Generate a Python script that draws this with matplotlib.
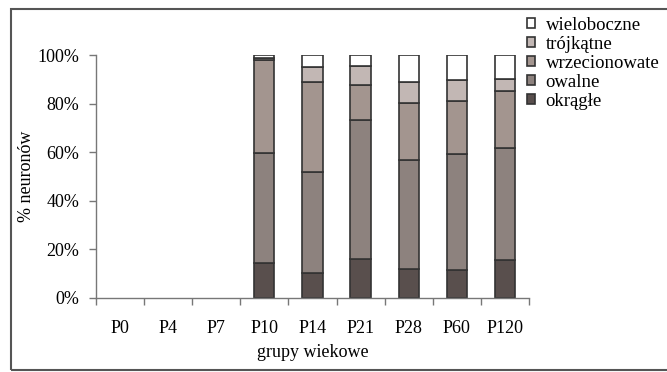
import matplotlib
matplotlib.use("Agg")
import matplotlib.pyplot as plt
from matplotlib.patches import Rectangle
from matplotlib.ticker import FixedLocator, FuncFormatter
import numpy as np

plt.rcParams['font.family'] = ['Liberation Serif', 'DejaVu Serif']

groups = ["P0", "P4", "P7", "P10", "P14", "P21", "P28", "P60", "P120"]
okragle = [0, 0, 0, 14.5, 10.2, 16.2, 11.9, 11.4, 15.6]
owalne = [0, 0, 0, 45.3, 41.7, 57.1, 44.9, 47.7, 46.1]
wrzecionowate = [0, 0, 0, 38.1, 37.0, 14.2, 23.4, 21.8, 23.6]
trojkatne = [0, 0, 0, 0.9, 6.2, 8.1, 8.8, 8.7, 4.8]
wieloboczne = [0, 0, 0, 1.2, 4.9, 4.4, 11.0, 10.4, 9.9]

series = [
    ("okrągłe", okragle, "#594f4d"),
    ("owalne", owalne, "#8d827e"),
    ("wrzecionowate", wrzecionowate, "#a3958f"),
    ("trójkątne", trojkatne, "#c2b7b4"),
    ("wieloboczne", wieloboczne, "#ffffff"),
]

FS = 13

fig = plt.figure(figsize=(6.67, 3.72), dpi=100)
ax = fig.add_axes([0.1439, 0.199, 0.6492, 0.653])

x = np.arange(len(groups))
bottom = np.zeros(len(groups))
handles = []
for name, vals, col in series:
    vals = np.array(vals, dtype=float)
    mask = vals > 0
    b = ax.bar(x[mask], vals[mask], bottom=bottom[mask], width=0.42,
               color=col, edgecolor="#333333", linewidth=1.2, label=name)
    handles.append(b)
    bottom += vals

ax.set_xlim(-0.5, len(groups) - 0.5)
ax.set_ylim(0, 100)
ax.set_yticks([0, 20, 40, 60, 80, 100])
ax.yaxis.set_major_formatter(FuncFormatter(lambda v, p: f"{int(v)}%"))
ax.set_xticks(x)
ax.set_xticklabels(groups)
ax.xaxis.set_minor_locator(FixedLocator(np.arange(-0.5, len(groups), 1.0)))
ax.tick_params(axis="x", which="major", length=0, pad=16, labelsize=FS)
ax.tick_params(axis="x", which="minor", length=5, width=1, color="#777777")
ax.tick_params(axis="y", length=5, width=1, color="#777777", labelsize=FS, pad=7)

for s in ["top", "right"]:
    ax.spines[s].set_visible(False)
for s in ["left", "bottom"]:
    ax.spines[s].set_color("#777777")
    ax.spines[s].set_linewidth(1)

ax.set_xlabel("grupy wiekowe", fontsize=FS, labelpad=5)
ax.set_ylabel("% neuronów", fontsize=FS, labelpad=2)

leg = fig.legend(handles[::-1], [s[0] for s in series][::-1],
                 loc="upper left", bbox_to_anchor=(527 / 667, 1 - 17 / 372),
                 frameon=False, fontsize=13.5, handlelength=0.45, handleheight=0.45,
                 handletextpad=0.55, labelspacing=0.1, borderpad=0, borderaxespad=0)

# outer frame around the whole chart
fig.patches.append(Rectangle((11 / 667, 1 - 370 / 372), 1.0, (370 - 9) / 372,
                             transform=fig.transFigure, fill=False,
                             edgecolor="#555555", linewidth=1.5))

fig.savefig("out.png", dpi=100)
